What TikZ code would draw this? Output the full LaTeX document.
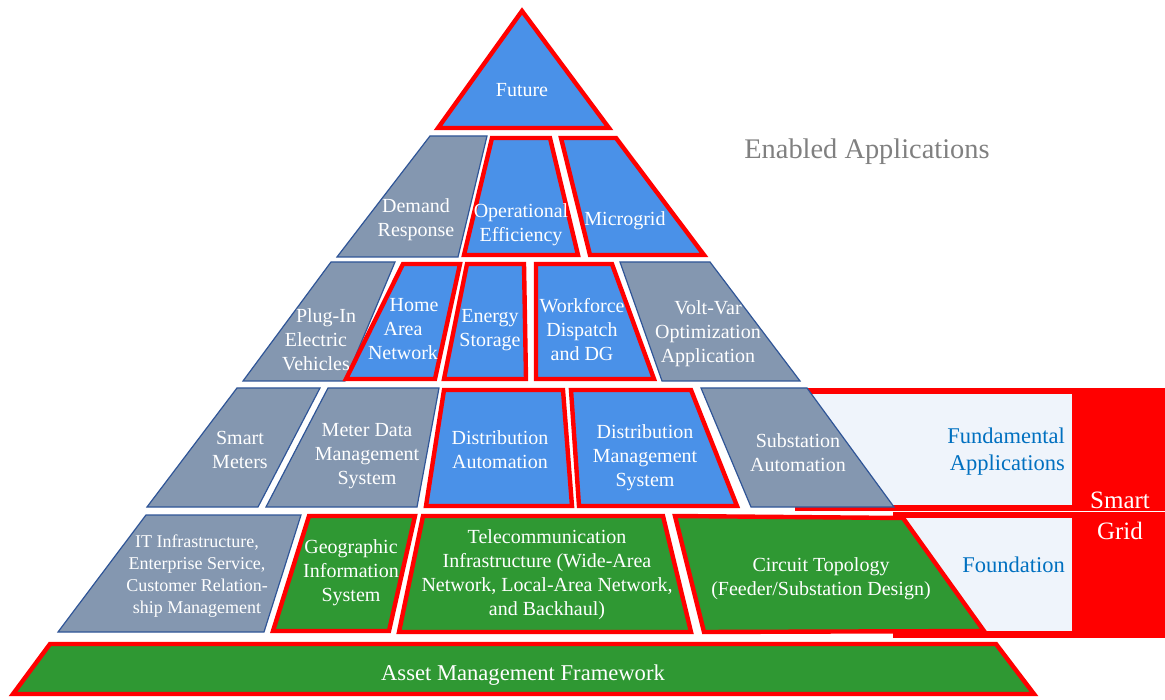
\documentclass[tikz,border=0pt]{standalone}
\usepackage{fontspec}
\setmainfont{LiberationSerif}[Extension=.ttf,UprightFont=*-Regular,BoldFont=*-Bold,ItalicFont=*-Italic]
\definecolor{sgray}{RGB}{132,151,176}
\definecolor{sborder}{RGB}{47,85,151}
\definecolor{sblue}{RGB}{74,145,232}
\definecolor{sgreen}{RGB}{47,152,51}
\definecolor{slight}{RGB}{239,244,251}
\definecolor{stxt}{RGB}{0,112,192}
\definecolor{sred}{RGB}{255,0,0}
\begin{document}
\begin{tikzpicture}[x=1pt,y=-1pt,
  graybox/.style={fill=sgray,draw=sborder,line width=1.2pt,line join=miter},
  bluebox/.style={fill=sblue,draw=sred,line width=4.4pt,line join=miter},
  greenbox/.style={fill=sgreen,draw=sred,line width=4.4pt,line join=miter},
  lbl/.style={text=white,font=\fontsize{20}{24}\selectfont,align=center,inner sep=0pt,yshift=-2pt},
  slbl/.style={text=white,font=\fontsize{18}{22}\selectfont,align=center,inner sep=0pt,yshift=-1pt},
  blbl/.style={text=stxt,font=\fontsize{22.5}{27}\selectfont,align=right,inner sep=0pt,yshift=-2pt}]
\useasboundingbox (0,0) rectangle (1165,700);
% right frames
\fill[sred] (795,388) rectangle (1165,511);
\fill[slight] (800,394) rectangle (1072,505);
\fill[sred] (893,511.7) rectangle (1165,638);
\fill[slight] (893,518) rectangle (1072,631);
% tier 1
\filldraw[bluebox] (522,11) -- (609,128) -- (438,128) -- cycle;
% tier 2
\filldraw[graybox] (430,136) -- (487,136) -- (458,257) -- (337,257) -- cycle;
\filldraw[bluebox] (492,138) -- (550,138) -- (578,255) -- (464,255) -- cycle;
\filldraw[bluebox] (561,138) -- (616,138) -- (704,255) -- (590,255) -- cycle;
% tier 3
\filldraw[graybox] (331,262) -- (395,262) -- (345,381) -- (243,381) -- cycle;
\filldraw[bluebox] (403,264) -- (460,264) -- (435,379) -- (346,379) -- cycle;
\filldraw[bluebox] (467,264) -- (524,264) -- (526,379) -- (444,379) -- cycle;
\filldraw[bluebox] (536,264) -- (612,264) -- (654,379) -- (536,379) -- cycle;
\filldraw[graybox] (620,262) -- (710,262) -- (800,381) -- (662,381) -- cycle;
% tier 4
\filldraw[graybox] (237,388) -- (320,388) -- (258,507) -- (147,507) -- cycle;
\filldraw[graybox] (328,388) -- (439,388) -- (417,507) -- (266,507) -- cycle;
\filldraw[bluebox] (444,390) -- (563,390) -- (572,506) -- (426,506) -- cycle;
\filldraw[bluebox] (571,390) -- (691,390) -- (737,506) -- (579,506) -- cycle;
\filldraw[graybox] (701,388) -- (807,388) -- (894,507) -- (751,507) -- cycle;
% tier 5
\filldraw[graybox] (146,515) -- (301,515) -- (264,632) -- (58,632) -- cycle;
\filldraw[greenbox] (309,516) -- (415,516) -- (389,631) -- (273,631) -- cycle;
\filldraw[greenbox] (423,516) -- (663,516) -- (691,632) -- (399,632) -- cycle;
\filldraw[greenbox] (675,516) -- (903,518) -- (984,631) -- (704,632) -- cycle;
% base
\filldraw[greenbox] (50,644) -- (996,644) -- (1034,694) -- (13,694) -- cycle;
% labels
\node[lbl] (future) at (522,88) {Future};
\node[lbl] (dr) at (416,218) {Demand\\Response};
\node[lbl] (oe) at (521,223) {Operational\\Efficiency};
\node[lbl] (mg) at (625,219) {Microgrid};
\node[lbl] (pev) at (316,338) {\hspace*{20pt}Plug-In\\Electric\\Vehicles};
\node[lbl] (han) at (403,327) {\hspace*{22pt}Home\\Area\\Network};
\node[lbl] (es) at (490,328) {Energy\\Storage};
\node[lbl] (wf) at (582,328) {Workforce\\Dispatch\\and DG};
\node[lbl] (vv) at (708,332) {Volt-Var\\Optimization\\Application};
\node[lbl] (sm) at (240,448) {Smart\\Meters};
\node[lbl] (mdms) at (367,454) {Meter Data\\Management\\System};
\node[lbl] (da) at (500,448) {Distribution\\Automation};
\node[lbl] (dms) at (645,456) {Distribution\\Management\\System};
\node[lbl] (sa) at (798,451) {Substation\\Automation};
\node[slbl] (it) at (197,575) {IT Infrastructure,\\Enterprise Service,\\Customer Relation-\\ship Management};
\node[lbl] (gis) at (351,571) {Geographic\\Information\\System};
\node[lbl] (tel) at (547,573) {Telecommunication\\Infrastructure (Wide-Area\\Network, Local-Area Network,\\and Backhaul)};
\node[lbl] (ct) at (821,577) {Circuit Topology\\(Feeder/Substation Design)};
\node[lbl,font=\fontsize{22.6}{27}\selectfont] (amf) at (523,673) {Asset Management Framework};
\node[blbl,anchor=east] (fa) at (1065,450) {Fundamental\\Applications};
\node[blbl,anchor=east] (fd) at (1065,563) {Foundation};
\node[text=white,font=\fontsize{25}{31}\selectfont,align=center,inner sep=0pt] (sg) at (1120,516) {Smart\\Grid};
\node[text=black!50,font=\fontsize{28.4}{34}\selectfont,inner sep=0pt] (ea) at (867,152) {Enabled Applications};
\end{tikzpicture}
\end{document}
